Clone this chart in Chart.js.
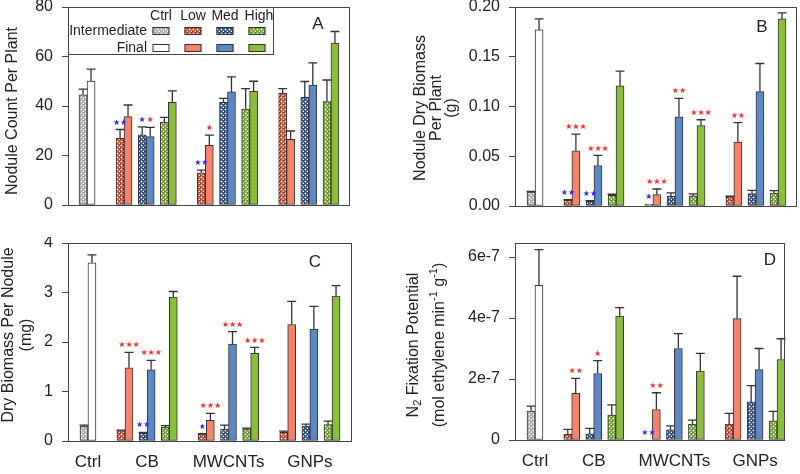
<!DOCTYPE html>
<html>
<head>
<meta charset="utf-8">
<script src="https://cdn.jsdelivr.net/npm/chart.js@4.4.0/dist/chart.umd.min.js"></script>
<style>
  body { margin: 0; background: #fff; width: 800px; height: 474px; position: relative; overflow: hidden; }
  canvas { position: absolute; }
</style>
</head>
<body>
<canvas id="pA" width="400" height="237" style="left:0;top:0"></canvas>
<canvas id="pB" width="400" height="237" style="left:400px;top:0"></canvas>
<canvas id="pC" width="400" height="237" style="left:0;top:237px"></canvas>
<canvas id="pD" width="400" height="237" style="left:400px;top:237px"></canvas>
<script>
// ---- data (pair order: Ctrl, CB Low/Med/High, MWCNTs Low/Med/High, GNPs Low/Med/High) ----
const groups = ['Ctrl', 'CB', 'MWCNTs', 'GNPs'];
const levels = ['Ctrl', 'Low', 'Med', 'High'];

// A: nodule count per plant
const countInter    = [44.5, 26.9, 28.4, 33.5, 13.0, 41.5, 38.8, 45.1, 43.5, 41.8];
const countInterErr = [2.3, 3.6, 3.2, 1.9, 1.1, 1.6, 8.2, 1.9, 6.4, 8.7];
const countFinal    = [50.1, 35.7, 27.6, 41.5, 24.1, 45.7, 45.9, 26.5, 48.5, 65.4];
const countFinalErr = [4.8, 4.7, 3.8, 4.6, 4.1, 6.1, 4.1, 3.4, 8.9, 4.7];
const countTicks = [0, 20, 40, 60, 80];
const countStars = [[1, 'i', '**'], [2, 'i', '*'], [2, 'f', '*'], [4, 'i', '**'], [4, 'f', '*']];

// B: nodule dry biomass per plant (g)
const massInter    = [0.014, 0.0057, 0.0047, 0.0108, 0.0017, 0.0097, 0.0101, 0.0091, 0.0124, 0.0131];
const massInterErr = [0.0007, 0.0007, 0.0007, 0.001, 0, 0.0034, 0.002, 0.0007, 0.0034, 0.0024];
const massFinal    = [0.177, 0.0555, 0.0407, 0.1207, 0.0114, 0.0897, 0.0807, 0.0642, 0.115, 0.188];
const massFinalErr = [0.011, 0.0168, 0.0101, 0.0148, 0.0057, 0.0185, 0.006, 0.0195, 0.0282, 0.006];
const massTicks = [0, 0.05, 0.10, 0.15, 0.20];
const massStars = [[1, 'i', '**'], [1, 'f', '***'], [2, 'i', '**'], [2, 'f', '***'], [4, 'i', '*'],
                   [4, 'f', '***'], [5, 'f', '**'], [6, 'f', '***'], [7, 'f', '**']];

// C: dry biomass per nodule (mg)
const perNodInter    = [0.3, 0.21, 0.155, 0.28, 0.14, 0.24, 0.24, 0.175, 0.3, 0.33];
const perNodInterErr = [0.02, 0.01, 0.02, 0.03, 0.01, 0.08, 0.02, 0.025, 0.04, 0.07];
const perNodFinal    = [3.6, 1.48, 1.44, 2.91, 0.42, 1.96, 1.77, 2.35, 2.26, 2.93];
const perNodFinalErr = [0.16, 0.31, 0.19, 0.11, 0.14, 0.25, 0.12, 0.47, 0.46, 0.21];
const perNodTicks = [0, 1, 2, 3, 4];
const perNodStars = [[1, 'f', '***'], [2, 'i', '**'], [2, 'f', '***'], [4, 'i', '*'],
                     [4, 'f', '***'], [5, 'f', '***'], [6, 'f', '***']];

// D: N2 fixation potential (units of 1e-7 mol ethylene min-1 g-1)
const fixInter    = [0.95, 0.19, 0.2, 0.82, 0, 0.33, 0.52, 0.52, 1.25, 0.63];
const fixInterErr = [0.16, 0.16, 0.18, 0.33, 0, 0.13, 0.13, 0.35, 0.53, 0.31];
const fixFinal    = [5.07, 1.53, 2.18, 4.06, 1.0, 3.0, 2.26, 3.98, 2.31, 2.64];
const fixFinalErr = [1.17, 0.49, 0.42, 0.28, 0.55, 0.49, 0.58, 1.39, 0.69, 0.68];
const fixTicks = [0, 2, 4, 6];
const fixStars = [[1, 'f', '**'], [2, 'f', '*'], [4, 'i', '**'], [4, 'f', '**']];

// ---- layout / style ----
const FONT = "'Liberation Sans', Arial, sans-serif";
Chart.defaults.font.family = FONT;
const INK = '#222';
const GAP = 1.67;   // slot gap between treatment groups
const OFF = 0.18;   // half-bar offset inside a pair

// pair centres on the linear x scale, with level index of each pair
const pairPos = [0], pairLevel = [0], groupPos = [0];
let xx = 0;
for (let g = 1; g < groups.length; g++) {
    xx += GAP;
    for (let l = 1; l <= 3; l++) {
        if (l > 1) xx += 1;
        pairPos.push(xx); pairLevel.push(l);
        if (l === 2) groupPos.push(xx);
    }
}

const finalColors = ['#ffffff', '#F4836A', '#5D88C4', '#8BBE3B'];
const interBase   = ['#a9a9a9', '#B3452F', '#2D4A7A', '#6C9A2C'];

function hatch(base) {
    const c = document.createElement('canvas');
    c.width = 4; c.height = 4;
    const g = c.getContext('2d');
    g.fillStyle = base; g.fillRect(0, 0, 4, 4);
    g.fillStyle = 'rgba(255,255,255,0.95)';
    [[1, 1], [3, 3]].forEach(p => g.fillRect(p[0], p[1], 1, 1));
    g.fillStyle = 'rgba(255,255,255,0.4)';
    [[0, 1], [2, 1], [1, 0], [1, 2], [2, 3], [3, 2]].forEach(p => g.fillRect(p[0], p[1], 1, 1));
    return g.createPattern(c, 'repeat');
}
const interFill = interBase.map(hatch);

// draws frame, error bars, stars, axis titles, panel letter, legend
const decor = {
    id: 'decor',
    afterDatasetsDraw(chart, args, o) {
        const ctx = chart.ctx, ys = chart.scales.y, a = chart.chartArea;
        ctx.save();
        // error bars + significance stars
        const errs = [o.interErr, o.finalErr];
        const tops = [[], []];
        errs.forEach((list, d) => {
            const meta = chart.getDatasetMeta(d);
            meta.data.forEach((bar, i) => {
                const v = chart.data.datasets[d].data[i].y;
                const top = ys.getPixelForValue(v + (list[i] || 0));
                tops[d][i] = top;
                if (!list[i]) return;
                ctx.strokeStyle = '#333'; ctx.lineWidth = 1.3;
                ctx.beginPath();
                ctx.moveTo(bar.x, bar.y); ctx.lineTo(bar.x, top);
                ctx.moveTo(bar.x - 4.5, top); ctx.lineTo(bar.x + 4.5, top);
                ctx.stroke();
            });
        });
        ctx.font = "8px 'DejaVu Sans'";
        ctx.textAlign = 'center'; ctx.textBaseline = 'middle';
        o.stars.forEach(s => {
            const d = s[1] === 'i' ? 0 : 1;
            const bar = chart.getDatasetMeta(d).data[s[0]];
            ctx.fillStyle = d === 0 ? '#2626ff' : '#ff2b2b';
            ctx.fillText(s[2].replace(/\*/g, '\u2605'), bar.x, tops[d][s[0]] - 7);
        });
        // frame
        ctx.strokeStyle = '#444'; ctx.lineWidth = 1;
        ctx.strokeRect(Math.round(a.left) + 0.5, Math.round(a.top) + 0.5,
                       Math.round(a.right - a.left) - 1, Math.round(a.bottom - a.top));
        // panel letter
        ctx.fillStyle = INK; ctx.font = '17px ' + FONT;
        ctx.fillText(o.letter[0], o.letter[1], o.letter[2]);
        // y title (rotated, may contain sub/superscripts)
        o.title.lines.forEach((segs, k) => {
            ctx.save();
            ctx.translate(o.title.xs[k], o.title.cy);
            ctx.rotate(-Math.PI / 2);
            const fontOf = s => (s.sup || s.sub ? '11px ' : '16px ') + FONT;
            let w = 0;
            segs.forEach(s => { ctx.font = fontOf(s); w += ctx.measureText(s.t).width; });
            let px = -w / 2;
            ctx.textAlign = 'left'; ctx.textBaseline = 'middle'; ctx.fillStyle = INK;
            segs.forEach(s => {
                ctx.font = fontOf(s);
                ctx.fillText(s.t, px, s.sup ? -6 : (s.sub ? 4 : 0));
                px += ctx.measureText(s.t).width;
            });
            ctx.restore();
        });
        if (o.legend) drawLegend(ctx);
        ctx.restore();
    }
};

function drawLegend(ctx) {
    ctx.fillStyle = '#fff'; ctx.fillRect(68, 7, 205, 47);
    ctx.strokeStyle = '#444'; ctx.lineWidth = 1;
    ctx.strokeRect(68.5, 7.5, 205, 47);
    ctx.fillStyle = INK; ctx.font = '14px ' + FONT; ctx.textBaseline = 'middle';
    const cx = [161, 193, 225, 257];
    ctx.textAlign = 'center';
    levels.forEach((l, i) => ctx.fillText(l, cx[i] + (i === 3 ? 2 : 0), 16));
    ctx.textAlign = 'right';
    ctx.fillText('Intermediate', 147, 31);
    ctx.fillText('Final', 147, 48);
    cx.forEach((x, i) => {
        [[27, interFill[i]], [44, finalColors[i]]].forEach(r => {
            ctx.fillStyle = r[1];
            ctx.fillRect(x - 8.5, r[0], 17, 8);
            ctx.strokeStyle = '#333';
            ctx.strokeRect(x - 8.5 + 0.5, r[0] + 0.5, 16, 7);
        });
    });
}

function makePanel(id, p) {
    const W = 400, H = 237, XH = p.showX ? 30 : 0;
    return new Chart(document.getElementById(id), {
        type: 'bar',
        data: {
            datasets: [
                { label: 'Intermediate', data: pairPos.map((x, i) => ({ x: x - OFF, y: p.inter[i] })),
                  backgroundColor: pairLevel.map(l => interFill[l]) },
                { label: 'Final', data: pairPos.map((x, i) => ({ x: x + OFF, y: p.final[i] })),
                  backgroundColor: pairLevel.map(l => finalColors[l]) }
            ].map(ds => Object.assign(ds, { borderColor: '#333', borderWidth: 1, borderSkipped: false,
                                              barThickness: 8, grouped: false }))
        },
        options: {
            responsive: false, animation: false, events: [],
            layout: { padding: { left: 0, top: p.area.top, right: W - p.area.right,
                                 bottom: H - p.area.bottom - XH } },
            plugins: {
                legend: { display: false }, tooltip: { enabled: false },
                decor: { interErr: p.interErr, finalErr: p.finalErr, stars: p.stars,
                         letter: p.letter, title: p.title, legend: !!p.legend }
            },
            scales: {
                x: {
                    type: 'linear', min: p.xMin, max: p.xMax, display: p.showX, offset: false,
                    afterBuildTicks: s => { s.ticks = groupPos.map(v => ({ value: v })); },
                    ticks: { callback: (v, i) => groups[i], font: { size: 17 }, color: INK,
                             padding: 11, maxRotation: 0, autoSkip: false },
                    grid: { display: false, drawTicks: false, offset: false }, border: { display: false },
                    afterFit: s => { s.height = XH; s.paddingLeft = 0; s.paddingRight = 0; }
                },
                y: {
                    min: 0, max: p.yMax,
                    afterBuildTicks: s => { s.ticks = p.yTicks.map(v => ({ value: v })); },
                    ticks: { callback: p.fmt, font: { size: 16 }, color: INK, padding: 9 },
                    grid: { drawOnChartArea: false, drawTicks: true, tickLength: 6, color: '#444' },
                    border: { display: false },
                    afterFit: s => { s.width = p.area.left; s.paddingTop = 0; s.paddingBottom = 0; }
                }
            }
        },
        plugins: [decor]
    });
}

makePanel('pA', {
    inter: countInter, interErr: countInterErr, final: countFinal, finalErr: countFinalErr,
    yMax: 80, yTicks: countTicks, fmt: v => String(v), stars: countStars,
    area: { left: 68, right: 350, top: 7, bottom: 205 }, xMin: -0.86, xMax: 11.87, showX: false,
    letter: ['A', 318, 24], legend: true,
    title: { lines: [[{ t: 'Nodule Count Per Plant' }]], xs: [13], cy: 111 }
});
makePanel('pB', {
    inter: massInter, interErr: massInterErr, final: massFinal, finalErr: massFinalErr,
    yMax: 0.2, yTicks: massTicks, fmt: v => v.toFixed(2), stars: massStars,
    area: { left: 115, right: 397, top: 7, bottom: 206 }, xMin: -0.91, xMax: 11.87, showX: false,
    letter: ['B', 362, 27],
    title: { lines: [[{ t: 'Nodule Dry Biomass' }], [{ t: 'Per Plant' }], [{ t: '(g)' }]],
             xs: [21, 37, 52], cy: 108 }
});
makePanel('pC', {
    inter: perNodInter, interErr: perNodInterErr, final: perNodFinal, finalErr: perNodFinalErr,
    yMax: 4, yTicks: perNodTicks, fmt: v => String(v), stars: perNodStars,
    area: { left: 68, right: 352, top: 6, bottom: 204 }, xMin: -0.9, xMax: 11.91, showX: true,
    letter: ['C', 315, 25],
    title: { lines: [[{ t: 'Dry Biomass Per Nodule' }], [{ t: '(mg)' }]], xs: [9, 27], cy: 98 }
});
makePanel('pD', {
    inter: fixInter, interErr: fixInterErr, final: fixFinal, finalErr: fixFinalErr,
    yMax: 6.46, yTicks: fixTicks, fmt: v => (v === 0 ? '0' : v + 'e-7'), stars: fixStars,
    area: { left: 115, right: 385, top: 6, bottom: 203 }, xMin: -0.91, xMax: 11.37, showX: true,
    letter: ['D', 370, 23],
    title: { lines: [[{ t: 'N' }, { t: '2', sub: 1 }, { t: ' Fixation Potential' }],
                     [{ t: '(mol ethylene min' }, { t: '-1', sup: 1 }, { t: ' g' }, { t: '-1', sup: 1 }, { t: ')' }]],
             xs: [14, 40], cy: 108 }
});
</script>
</body>
</html>
